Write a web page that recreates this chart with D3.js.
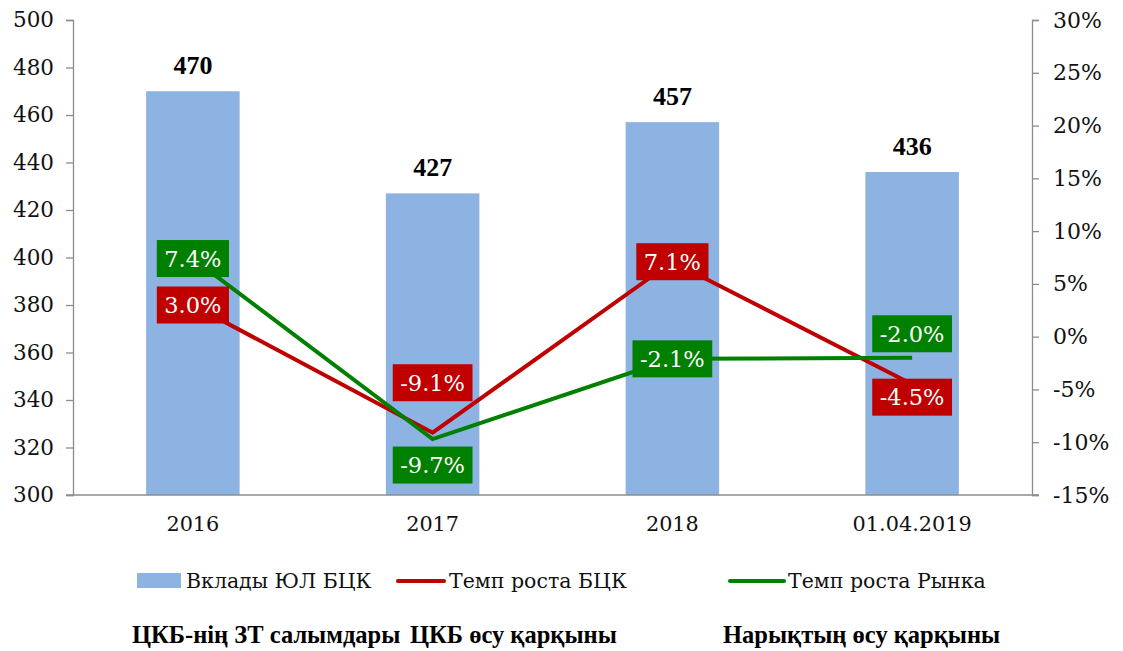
<!DOCTYPE html>
<html><head><meta charset="utf-8">
<script src="https://cdn.jsdelivr.net/npm/d3@7"></script>
<style>body{margin:0;background:#fff}svg{display:block}</style>
</head><body>
<svg id="c" width="1123" height="651"></svg>
<script>
const categories = ["2016", "2017", "2018", "01.04.2019"];
const deposits = [470, 427, 457, 436];
const growthBank = [3.0, -9.1, 7.1, -4.5];
const growthMarket = [7.4, -9.7, -2.1, -2.0];
const leftTicks = [300, 320, 340, 360, 380, 400, 420, 440, 460, 480, 500];
const rightTicks = [-15, -10, -5, 0, 5, 10, 15, 20, 25, 30];
const bankLabelOffset = [0, -50, 0, 13];
const marketLabelOffset = [0, 26, 0, -24];
const legendNames = ["Вклады ЮЛ БЦК", "Темп роста БЦК", "Темп роста Рынка"];
const kazakhNames = ["ЦКБ-нің ЗТ салымдары", "ЦКБ өсу қарқыны", "Нарықтың өсу қарқыны"];

const svg = d3.select("#c");
const L = 73, R = 1032, T = 20, B = 495;
const font = "DejaVu Serif, serif";
const boldFont = "Liberation Serif, DejaVu Serif, serif";
const axisColor = "#8c8c8c";
const barColor = "#8db3e2", red = "#c00000", green = "#008000";

const x = d3.scaleBand().domain(categories).range([L, R]).paddingInner(0.61).paddingOuter(0.305);
const y = d3.scaleLinear().domain([300, 500]).range([B, T]);
const y2 = d3.scaleLinear().domain([-15, 30]).range([B, T]);
const cx = c => x(c) + x.bandwidth() / 2;

// bars
svg.selectAll("rect.bar").data(deposits).join("rect")
  .attr("x", (d, i) => x(categories[i])).attr("width", x.bandwidth())
  .attr("y", d => y(d)).attr("height", d => B - y(d)).attr("fill", barColor);

// bar labels
svg.selectAll("text.bl").data(deposits).join("text")
  .attr("x", (d, i) => cx(categories[i])).attr("y", d => y(d) - 17)
  .attr("text-anchor", "middle").style("font-family", boldFont).attr("font-weight", "bold")
  .attr("font-size", 26).attr("fill", "#000").text(d => d);

// axes
const gl = svg.append("g").attr("transform", `translate(${L},0)`)
  .call(d3.axisLeft(y).tickValues(leftTicks).tickSize(7).tickPadding(12));
const gr = svg.append("g").attr("transform", `translate(${R},0)`)
  .call(d3.axisRight(y2).tickValues(rightTicks).tickSize(7).tickPadding(14).tickFormat(d => d + "%"));
const gb = svg.append("g").attr("transform", `translate(0,${B})`)
  .call(d3.axisBottom(x).tickSize(0).tickPadding(21));
[gl, gr, gb].forEach(g => {
  g.selectAll("path,line").attr("stroke", axisColor).attr("stroke-width", 1.3);
  g.selectAll("text").style("font-family", font).attr("font-size", 21.5).attr("fill", "#111");
});
gr.selectAll("text").attr("font-size", 22);
gb.select("path.domain").attr("d", `M${L - 7},0H${R + 7}`);
gb.selectAll("text").attr("font-size", 20.8);

// lines
const line = yy => d3.line().x((d, i) => cx(categories[i])).y(d => yy(d));
svg.append("path").datum(growthBank).attr("d", line(y2)).attr("fill", "none")
  .attr("stroke", red).attr("stroke-width", 4);
svg.append("path").datum(growthMarket).attr("d", line(y2)).attr("fill", "none")
  .attr("stroke", green).attr("stroke-width", 4);

// data labels
function labels(data, offs, color) {
  const g = svg.append("g");
  data.forEach((v, i) => {
    const t = (v < 0 ? "-" : "") + Math.abs(v).toFixed(1) + "%";
    const px = cx(categories[i]), py = y2(v) + offs[i];
    const rect = g.append("rect").attr("fill", color);
    const txt = g.append("text").attr("x", px).attr("y", py + 8).attr("text-anchor", "middle")
      .style("font-family", font).attr("font-size", 22.5).attr("fill", "#fff").text(t);
    const w = txt.node().getComputedTextLength() + 15, h = 37;
    rect.attr("x", px - w / 2).attr("y", py - h / 2).attr("width", w).attr("height", h);
  });
}
labels(growthMarket, marketLabelOffset, green);
labels(growthBank, bankLabelOffset, red);

// legend
const lg = svg.append("g").style("font-family", font).attr("font-size", 20.5).attr("fill", "#111");
lg.append("rect").attr("x", 137).attr("y", 573).attr("width", 44).attr("height", 15).attr("fill", barColor);
lg.append("text").attr("x", 186).attr("y", 588).text(legendNames[0]);
lg.append("line").attr("x1", 398).attr("x2", 444).attr("y1", 581).attr("y2", 581).attr("stroke", red).attr("stroke-width", 4).attr("stroke-linecap", "round");
lg.append("text").attr("x", 449).attr("y", 588).text(legendNames[1]);
lg.append("line").attr("x1", 730).attr("x2", 784).attr("y1", 581).attr("y2", 581).attr("stroke", green).attr("stroke-width", 4).attr("stroke-linecap", "round");
lg.append("text").attr("x", 788).attr("y", 588).text(legendNames[2]);

// kazakh labels
const kx = [132, 410, 723];
svg.append("g").selectAll("text").data(kazakhNames).join("text")
  .attr("x", (d, i) => kx[i]).attr("y", 643).style("font-family", boldFont).attr("font-weight", "bold")
  .attr("font-size", 24.5).attr("fill", "#000").text(d => d);
</script>
</body></html>
